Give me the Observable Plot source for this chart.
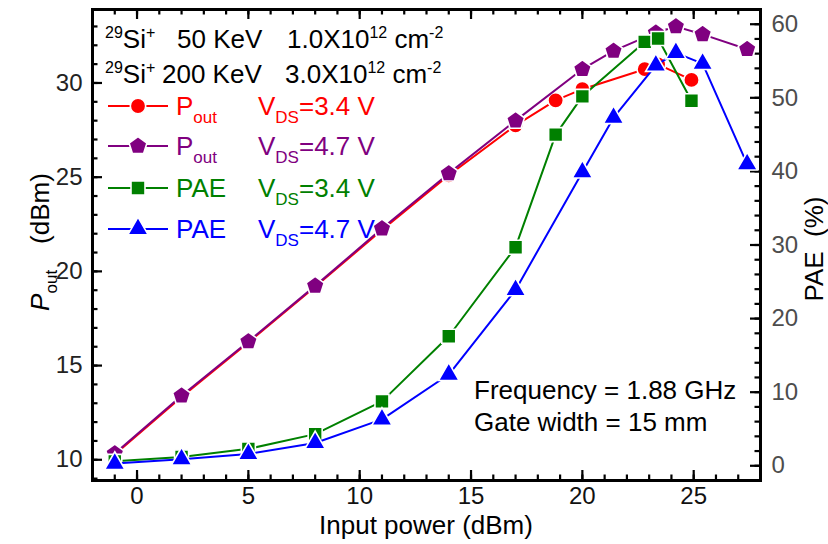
<!DOCTYPE html>
<html>
<head>
<meta charset="utf-8">
<script src="https://cdn.jsdelivr.net/npm/d3@7"></script>
<script src="https://cdn.jsdelivr.net/npm/@observablehq/plot@0.6"></script>
<style>
  html, body { margin: 0; padding: 0; background: white; }
  svg { display: block; }
</style>
</head>
<body>
<div id="chart"></div>
<script>
// ---------------- data ----------------
const xPout34 = [-1, 2, 5, 8, 11, 14, 17, 18.8, 20, 22.8, 23.4, 24.9];
const pout34  = [10.28, 13.33, 16.23, 19.18, 22.2, 25.1, 27.75, 29.08, 29.67, 30.73, 30.99, 30.16];

const xPout47 = [-1, 2, 5, 8, 11, 14, 17, 20, 21.4, 23.3, 24.2, 25.4, 27.4];
const pout47  = [10.33, 13.4, 16.28, 19.23, 22.27, 25.2, 28.0, 30.73, 31.7, 32.67, 33.0, 32.58, 31.79];

const xPae34 = [-1, 2, 5, 8, 11, 14, 17, 18.8, 20, 22.8, 23.4, 24.9];
const pae34  = [0.6, 1.2, 2.3, 4.3, 8.75, 17.6, 29.7, 45.0, 50.2, 57.6, 58.05, 49.6];

const xPae47 = [-1, 2, 5, 8, 11, 14, 17, 20, 21.4, 23.3, 24.2, 25.4, 27.4];
const pae47  = [0.3, 0.9, 1.6, 3.1, 6.3, 12.4, 23.9, 39.9, 47.3, 54.4, 56.1, 54.65, 41.0];

const xTickLabels = [0, 5, 10, 15, 20, 25];
const poutTickLabels = [10, 15, 20, 25, 30];
const paeTickLabels = [0, 10, 20, 30, 40, 50, 60];

const seriesNames = ["P", "P", "PAE", "PAE"];
const seriesSubs = ["out", "out", "", ""];
const seriesVds = ["3.4", "4.7", "3.4", "4.7"];
const seriesColors = ["#ff0000", "#800080", "#008000", "#0000ff"];

const xDomain = [-2, 28];
const poutDomain = [8.9, 33.9];
const paeDomain = [-2, 62];

// ---------------- layout ----------------
const W = 828, H = 544;
const mL = 92, mR = 68, mT = 9, mB = 64;
const plotW = W - mL - mR, plotH = H - mT - mB;
const FONT = "'Liberation Sans', Arial, Helvetica, sans-serif";

// map PAE (right axis) into the left-axis space
const toLeft = p => poutDomain[0] + (p - paeDomain[0]) * (poutDomain[1] - poutDomain[0]) / (paeDomain[1] - paeDomain[0]);
const fromLeft = v => paeDomain[0] + (v - poutDomain[0]) * (paeDomain[1] - paeDomain[0]) / (poutDomain[1] - poutDomain[0]);

const pentagon = {
  draw(ctx, size) {
    const R = Math.sqrt(size / 2.3776);
    for (let i = 0; i < 5; i++) {
      const a = -Math.PI / 2 + i * 2 * Math.PI / 5;
      const px = R * Math.cos(a), py = R * Math.sin(a);
      if (i === 0) ctx.moveTo(px, py); else ctx.lineTo(px, py);
    }
    ctx.closePath();
  }
};
const symbols = ["circle", pentagon, "square", "triangle"];
const radii = [7.7, 8.2, 7.9, 7.6];

const series = [
  xPout34.map((x, i) => ({x, y: pout34[i]})),
  xPout47.map((x, i) => ({x, y: pout47[i]})),
  xPae34.map((x, i) => ({x, y: toLeft(pae34[i])})),
  xPae47.map((x, i) => ({x, y: toLeft(pae47[i])}))
];

const range = (a, b, s) => d3.range(a, b + 1e-9, s);
const xMinor = range(-2, 28, 1);
const xMajor = range(0, 25, 5);
const yMinor = range(9, 33, 1);
const yMajor = range(10, 30, 5);
const paeMinor = range(-2, 62, 2);
const paeMajor = range(0, 60, 10);

const tickStyle = {stroke: "black", strokeWidth: 2.2};
const majLen = 10, minLen = 5.5;

const marks = [
  Plot.frame({stroke: "black", strokeWidth: 3}),
  // bottom & top x ticks (inward)
  Plot.tickX(xMinor, {x: d => d, insetTop: plotH - minLen, ...tickStyle}),
  Plot.tickX(xMajor, {x: d => d, insetTop: plotH - majLen, ...tickStyle}),
  Plot.tickX(xMinor, {x: d => d, insetBottom: plotH - minLen, ...tickStyle}),
  Plot.tickX(xMajor, {x: d => d, insetBottom: plotH - majLen, ...tickStyle}),
  // left ticks
  Plot.tickY(yMinor, {y: d => d, insetRight: plotW - minLen, ...tickStyle}),
  Plot.tickY(yMajor, {y: d => d, insetRight: plotW - majLen, ...tickStyle}),
  // right ticks (PAE)
  Plot.tickY(paeMinor.map(toLeft), {y: d => d, insetLeft: plotW - minLen, ...tickStyle}),
  Plot.tickY(paeMajor.map(toLeft), {y: d => d, insetLeft: plotW - majLen, ...tickStyle}),
  // tick labels
  Plot.axisX(xTickLabels, {anchor: "bottom", tickSize: 0, tickPadding: 6, fontSize: 24, fill: "#111", label: null}),
  Plot.axisY(poutTickLabels, {anchor: "left", tickSize: 0, tickPadding: 10, fontSize: 24, fill: "#222", label: null}),
  Plot.axisY(paeTickLabels.map(toLeft), {anchor: "right", tickSize: 0, tickPadding: 11, fontSize: 24, fill: "#4d4d4d", label: null,
    tickFormat: d => String(Math.round(fromLeft(d)))})
];

series.forEach((data, k) => {
  marks.push(Plot.line(data, {x: "x", y: "y", stroke: seriesColors[k], strokeWidth: 2}));
  marks.push(Plot.dot(data, {x: "x", y: "y", fill: seriesColors[k], stroke: "white", strokeWidth: 1.6, r: radii[k], symbol: symbols[k]}));
});

const plot = Plot.plot({
  width: W, height: H,
  marginLeft: mL, marginRight: mR, marginTop: mT, marginBottom: mB,
  x: {domain: xDomain},
  y: {domain: poutDomain},
  style: {fontFamily: FONT, fontSize: "24px", background: "white", color: "black", overflow: "visible"},
  marks
});
document.getElementById("chart").appendChild(plot);

// ---------------- annotations (real text) ----------------
const svg = d3.select(plot);
const g = svg.append("g").attr("font-family", FONT).attr("fill", "black").attr("text-anchor", "start");

function line(parts, y, fill) {
  const t = g.append("text").attr("y", y).attr("font-size", 26).attr("fill", fill || "black").attr("text-anchor", "start");
  let prev = null;
  parts.forEach(([txt, kind, x]) => {
    const ts = t.append("tspan").text(txt);
    if (x !== undefined) ts.attr("x", x);
    let dy = 0;
    if (prev === "sup") dy += 10;
    if (prev === "sub") dy -= 8;
    if (kind === "sup") { ts.attr("font-size", 16); dy -= 10; }
    if (kind === "sub") { ts.attr("font-size", 17); dy += 8; }
    if (dy) ts.attr("dy", dy);
    prev = kind;
  });
  return t;
}

line([["29", "sup", 105], ["Si", "n"], ["+", "sup"], ["50 KeV", "n", 177], ["1.0X10", "n", 287], ["12", "sup"], [" cm", "n"], ["-2", "sup"]], 48);
line([["29", "sup", 105], ["Si", "n"], ["+", "sup"], ["200 KeV", "n", 162], ["3.0X10", "n", 285], ["12", "sup"], [" cm", "n"], ["-2", "sup"]], 83);

const rowY = [106, 146, 188, 229];
seriesNames.forEach((nm, k) => {
  const cy = rowY[k];
  g.append("line").attr("x1", 108).attr("x2", 168).attr("y1", cy).attr("y2", cy)
    .attr("stroke", seriesColors[k]).attr("stroke-width", 2);
  const sym = typeof symbols[k] === "string"
    ? {circle: d3.symbolCircle, square: d3.symbolSquare, triangle: d3.symbolTriangle}[symbols[k]]
    : symbols[k];
  g.append("path").attr("transform", `translate(138,${cy})`)
    .attr("d", d3.symbol(sym, Math.PI * radii[k] * radii[k])())
    .attr("fill", seriesColors[k]).attr("stroke", "white").attr("stroke-width", 1.6);
  const parts = [[nm, "n", 176]];
  if (seriesSubs[k]) parts.push([seriesSubs[k], "sub"]);
  parts.push(["V", "n", 258], ["DS", "sub"], ["=" + seriesVds[k] + " V", "n"]);
  line(parts, cy + 9, seriesColors[k]);
});

g.append("text").attr("x", 474).attr("y", 399).attr("font-size", 26).text("Frequency = 1.88 GHz");
g.append("text").attr("x", 474).attr("y", 431).attr("font-size", 26).text("Gate width = 15 mm");

// axis titles
g.append("text").attr("x", (mL + W - mR) / 2).attr("y", 534).attr("text-anchor", "middle")
  .attr("font-size", 26).text("Input power (dBm)");

const yt = g.append("text").attr("transform", `translate(49,242) rotate(-90)`).attr("text-anchor", "middle").attr("font-size", 26);
yt.append("tspan").attr("font-style", "italic").text("P");
yt.append("tspan").attr("font-size", 17).attr("dy", 8).text("out");
yt.append("tspan").attr("dy", -8).text("\u2003(dBm)");

g.append("text").attr("transform", `translate(823,249) rotate(-90)`).attr("text-anchor", "middle")
  .attr("font-size", 26).text("PAE  (%)");
</script>
</body>
</html>
